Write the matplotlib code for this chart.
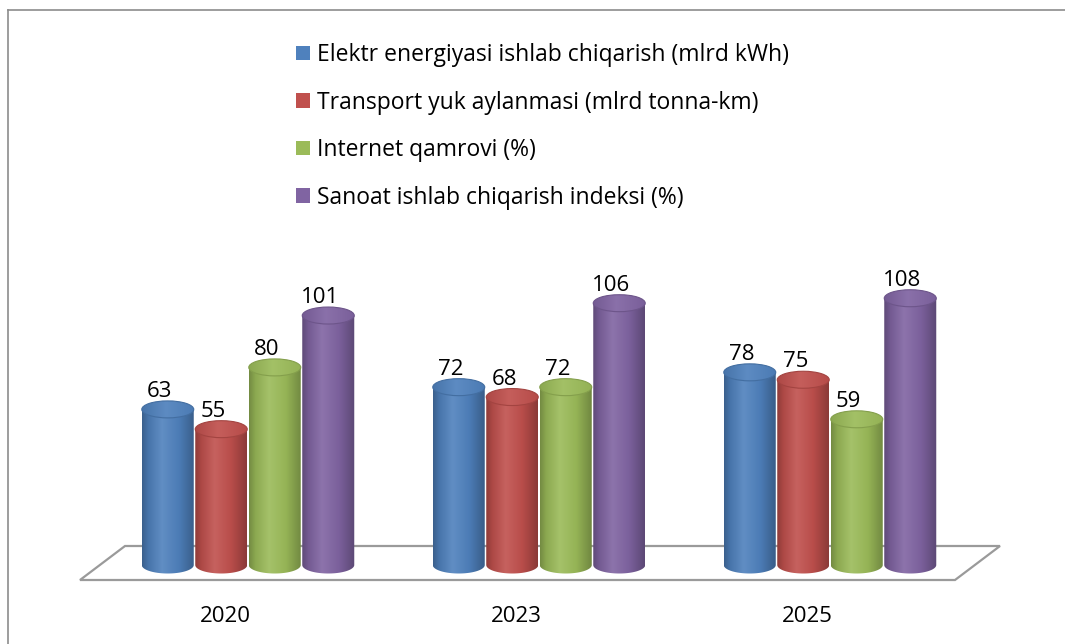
import numpy as np
import matplotlib
matplotlib.use('Agg')
import matplotlib.pyplot as plt
from matplotlib.patches import Ellipse, Polygon, PathPatch, Rectangle
from matplotlib.path import Path
from matplotlib.colors import LinearSegmentedColormap, to_rgb
from matplotlib.lines import Line2D

# ---------------- data ----------------
years = ['2020', '2023', '2025']
series_names = [
    'Elektr energiyasi ishlab chiqarish (mlrd kWh)',
    'Transport yuk aylanmasi (mlrd tonna-km)',
    'Internet qamrovi (%)',
    'Sanoat ishlab chiqarish indeksi (%)',
]
elektr = [63, 72, 78]
transport = [55, 68, 75]
internet = [80, 72, 59]
sanoat = [101, 106, 108]
series_values = [elektr, transport, internet, sanoat]
colors = ['#4F81BD', '#C0504D', '#9BBB59', '#8064A2']

FONT = 'Open Sans'

# ---------------- figure / scales ----------------
W, H = 1065, 644
fig = plt.figure(figsize=(W / 100, H / 100), dpi=100)
fig.patch.set_facecolor('white')
ax = fig.add_axes([0, 0, 1, 1])
x_px, x_org = 291.0, 248.0      # px per category, px of first category
y_px, y_org = 2.47, 565.0       # px per unit, px (from top) of zero
ax.set_xlim(-x_org / x_px, (W - x_org) / x_px)
ax.set_ylim(-(H - y_org) / y_px, y_org / y_px)
ax.axis('off')

def dx(px):
    return px / x_px

def dy(px):
    return px / y_px

# ---------------- floor ----------------
back_y, front_y = dy(565 - 546), dy(565 - 580)
floor = Polygon([(dx(80 - x_org), front_y), (dx(125 - x_org), back_y),
                 (dx(1000 - x_org), back_y), (dx(955 - x_org), front_y)],
                closed=True, facecolor='white', edgecolor='#9A9A9A', lw=1.6, zorder=1)
ax.add_patch(floor)

# ---------------- cylinders ----------------
bar_w = dx(52)
step = dx(53.5)
ell_h = dy(17)

def shade(c, f):
    r = np.array(to_rgb(c))
    if f >= 1:
        return tuple(r + (1 - r) * (f - 1))
    return tuple(r * f)

def body_cmap(c):
    return LinearSegmentedColormap.from_list(
        'b', [(0.0, shade(c, 0.74)), (0.12, shade(c, 0.9)), (0.38, shade(c, 1.1)),
              (0.7, shade(c, 0.96)), (1.0, shade(c, 0.72))])

def top_cmap(c):
    return LinearSegmentedColormap.from_list(
        't', [(0.0, shade(c, 0.9)), (0.45, shade(c, 1.08)), (1.0, shade(c, 0.95))])

grad = np.linspace(0, 1, 256).reshape(1, -1)
t = np.linspace(np.pi, 2 * np.pi, 60)

for j, (vals, col) in enumerate(zip(series_values, colors)):
    for i, v in enumerate(vals):
        xc = i + (j - 1.5) * step
        xl, xr = xc - bar_w / 2, xc + bar_w / 2
        pts = [(xl, v), (xl, 0)]
        pts += list(zip(xc + bar_w / 2 * np.cos(t), ell_h / 2 * np.sin(t)))
        pts += [(xr, 0), (xr, v), (xl, v)]
        path = Path(pts)
        patch = PathPatch(path, facecolor='none', edgecolor='none', zorder=3)
        ax.add_patch(patch)
        im = ax.imshow(grad, extent=[xl, xr, -ell_h, v], cmap=body_cmap(col),
                       aspect='auto', zorder=3, interpolation='bilinear')
        im.set_clip_path(patch)
        top = Ellipse((xc, v), bar_w, ell_h, facecolor='none',
                      edgecolor=shade(col, 0.85), lw=0.8, zorder=5)
        ax.add_patch(top)
        im2 = ax.imshow(grad, extent=[xl, xr, v - ell_h / 2, v + ell_h / 2],
                        cmap=top_cmap(col), aspect='auto', zorder=4,
                        interpolation='bilinear')
        im2.set_clip_path(top)
        ax.text(xc - dx(8), v + dy(18), str(v), ha='center', va='center',
                fontsize=16, family=FONT, color='black', zorder=6)

ax.set_xlim(-x_org / x_px, (W - x_org) / x_px)
ax.set_ylim(-(H - y_org) / y_px, y_org / y_px)

# ---------------- category labels (front edge of floor) ----------------
for i, yr in enumerate(years):
    ax.text(i - dx(22.5), dy(565 - 617), yr, ha='center', va='center',
            fontsize=16, family=FONT, color='black')

# ---------------- legend ----------------
handles = [Rectangle((0, 0), 1, 1, facecolor=c, edgecolor='none') for c in colors]
leg = fig.legend(handles, series_names, loc='upper left',
                 bbox_to_anchor=(296 / W, 1 - 43 / H), frameon=False, borderpad=0,
                 borderaxespad=0,
                 handlelength=0.6, handleheight=0.6, handletextpad=0.3,
                 labelspacing=1.03, prop={'family': FONT, 'size': 16.5})

# ---------------- outer frame ----------------
fx = 8 / W
fy = 1 - 10 / H
fig.add_artist(Line2D([fx, fx], [0, fy], transform=fig.transFigure,
                      color='#8C8C8C', lw=1.2))
fig.add_artist(Line2D([fx, 1], [fy, fy], transform=fig.transFigure,
                      color='#8C8C8C', lw=1.2))

fig.savefig('out.png', dpi=100, facecolor='white')
